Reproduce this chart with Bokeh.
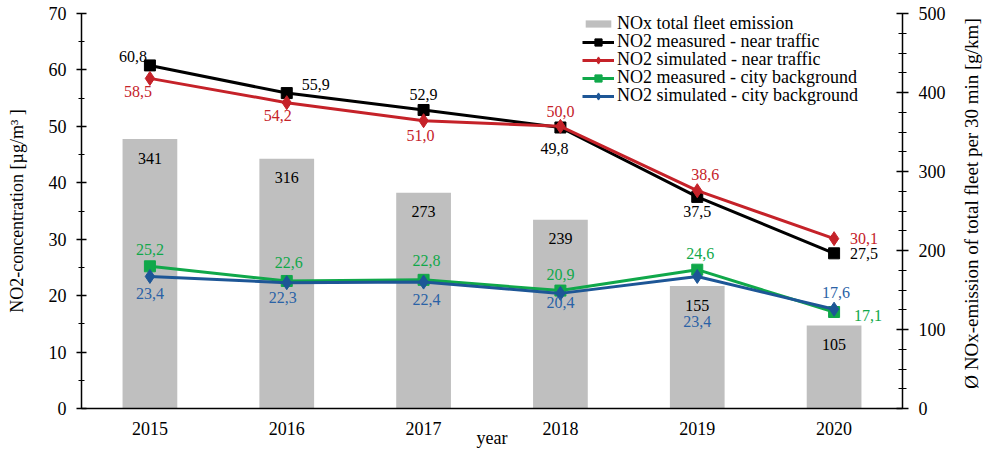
import math
from bokeh.plotting import figure
from bokeh.layouts import row
from bokeh.models import (ColumnDataSource, Range1d, FactorRange, LinearAxis, FixedTicker,
                          Legend, LegendItem)
from bokeh.core.properties import value
from bokeh.embed import file_html
from bokeh.resources import INLINE

years = ["2015", "2016", "2017", "2018", "2019", "2020"]
nox_emission = [341, 316, 273, 239, 155, 105]
no2_meas_traffic = [60.8, 55.9, 52.9, 49.8, 37.5, 27.5]
no2_sim_traffic = [58.5, 54.2, 51.0, 50.0, 38.6, 30.1]
no2_meas_bg = [25.2, 22.6, 22.8, 20.9, 24.6, 17.1]
no2_sim_bg = [23.4, 22.3, 22.4, 20.4, 23.4, 17.6]

left_ticks = [0, 10, 20, 30, 40, 50, 60, 70]
right_ticks = [0, 100, 200, 300, 400, 500]

legend_labels = ["NOx total fleet emission",
                 "NO2 measured - near traffic",
                 "NO2 simulated - near traffic",
                 "NO2 measured - city background",
                 "NO2 simulated - city background"]
right_title = "Ø NOx-emission of total fleet per 30 min [g/km]"

FONT = "Liberation Serif"
C_BAR = "#bfbfbf"
C_BLACK = "#000000"
C_RED = "#c52229"
C_GREEN = "#10a84a"
C_BLUE = "#1d5696"
C_BLUE_TXT = "#2a62a6"

def fmt(v):
    return f"{v:.1f}".replace(".", ",")

p = figure(x_range=FactorRange(factors=years, range_padding=0),
           y_range=Range1d(0, 70),
           frame_width=821, frame_height=395,
           min_border_left=81, min_border_right=56, min_border_top=13, min_border_bottom=43,
           output_backend="svg", toolbar_location=None)
p.extra_y_ranges = {"nox": Range1d(0, 500)}
p.outline_line_color = None
p.xgrid.grid_line_color = None
p.ygrid.grid_line_color = None
p.background_fill_color = "white"
p.border_fill_color = "white"

# bars
src_bar = ColumnDataSource(dict(x=years, top=nox_emission,
                                lab=[str(v) for v in nox_emission]))
bars = p.vbar(x="x", top="top", width=0.4, source=src_bar, y_range_name="nox",
              fill_color=C_BAR, line_color=None)
p.text(x="x", y="top", text="lab", source=src_bar, y_range_name="nox",
       text_font=value(FONT), text_font_size="16px", text_color="black",
       text_align="center", text_baseline="middle", y_offset=19)

def series(vals, color, marker, msize, txtcolor, dx, dy):
    src = ColumnDataSource(dict(x=years, y=vals, lab=[fmt(v) for v in vals], dx=dx, dy=dy))
    ln = p.line(x="x", y="y", source=src, line_color=color, line_width=3)
    sc = p.scatter(x="x", y="y", source=src, marker=marker, size=msize,
                   fill_color=color, line_color=color)
    p.text(x="x", y="y", text="lab", source=src, x_offset="dx", y_offset="dy",
           text_font=value(FONT), text_font_size="16px", text_color=txtcolor,
           text_align="center", text_baseline="middle")
    return [ln, sc]

r_black = series(no2_meas_traffic, C_BLACK, "square", 11, "black",
                 [-17, 29, 0, -6, 0, 30], [-9, -9, -15, 21, 15, 0])
r_red = series(no2_sim_traffic, C_RED, "diamond", 14, C_RED,
               [-12, -9, -3, 0, 8, 30], [13, 13, 15, -15, -16, 0])
r_green = series(no2_meas_bg, C_GREEN, "square", 11, C_GREEN,
                 [0, 2, 3, 0, 3, 34], [-17, -18, -19, -16, -16, 3])
r_blue = series(no2_sim_bg, C_BLUE, "diamond", 14, C_BLUE_TXT,
                [0, -4, 3, 0, 0, 2], [17, 15, 17, 9, 45, -17])

# axes
ax_l = p.yaxis[0]
ax_l.ticker = FixedTicker(ticks=left_ticks, minor_ticks=[5, 15, 25, 35, 45, 55, 65])
ax_l.axis_label = "NO2-concentration [µg/m³ ]"
ax_l.axis_label_standoff = 19
ax_l.axis_label_text_font = FONT
ax_l.axis_label_text_font_size = "18px"
ax_l.axis_label_text_font_style = "normal"
ax_l.axis_label_text_color = "black"
ax_l.major_label_text_font = FONT
ax_l.major_label_text_font_size = "18px"
ax_l.major_label_text_color = "black"
ax_l.major_label_standoff = 10
ax_l.axis_line_width = 1.5
ax_l.major_tick_in = 5
ax_l.major_tick_out = 5
ax_l.minor_tick_in = 3
ax_l.minor_tick_out = 3
ax_l.major_tick_line_width = 1.5

ax_r = LinearAxis(y_range_name="nox",
                  ticker=FixedTicker(ticks=right_ticks,
                                     minor_ticks=[v for v in range(25, 500, 25) if v % 100]))
ax_r.major_label_text_font = FONT
ax_r.major_label_text_font_size = "18px"
ax_r.major_label_text_color = "black"
ax_r.major_label_standoff = 10
ax_r.axis_line_width = 1.5
ax_r.major_tick_in = 6
ax_r.major_tick_out = 6
ax_r.minor_tick_in = 4
ax_r.minor_tick_out = 4
ax_r.major_tick_line_width = 1.5
p.add_layout(ax_r, "right")

ax_b = p.xaxis[0]
ax_b.axis_label = "year"
ax_b.axis_label_standoff = -10
ax_b.axis_label_text_font = FONT
ax_b.axis_label_text_font_size = "18px"
ax_b.axis_label_text_font_style = "normal"
ax_b.axis_label_text_color = "black"
ax_b.major_label_text_font = FONT
ax_b.major_label_text_font_size = "18px"
ax_b.major_label_text_color = "black"
ax_b.major_label_standoff = 7
ax_b.major_tick_line_color = None
ax_b.minor_tick_line_color = None
ax_b.axis_line_width = 1.5

# legend: one row per Legend so the rows can sit as tightly as in the original
legend_renderers = [[bars], r_black, r_red, r_green, r_blue]
row_bottoms = [374, 356, 338, 320, 302]
for i, (lab, rends) in enumerate(zip(legend_labels, legend_renderers)):
    lg = Legend(items=[LegendItem(label=lab, renderers=rends)],
                location=(501, row_bottoms[i]), padding=0, margin=0, spacing=0,
                glyph_width=32, glyph_height=(9 if i == 0 else 18), label_height=18,
                label_standoff=3,
                label_text_font=FONT, label_text_font_size="18px", label_text_color="black",
                border_line_color=None, background_fill_alpha=0)
    p.add_layout(lg)

# right-hand axis title, reading bottom-to-top
t = figure(width=28, height=451, x_range=Range1d(0, 1), y_range=Range1d(0, 1),
           min_border=0, x_axis_type=None, y_axis_type=None,
           output_backend="svg", toolbar_location=None)
t.outline_line_color = None
t.xgrid.grid_line_color = None
t.ygrid.grid_line_color = None
t.text(x=[0.45], y=[0.519], text=[right_title], angle=math.pi / 2,
       text_font=value(FONT), text_font_size="19px", text_color="black",
       text_align="center", text_baseline="middle")

layout = row(p, t, spacing=0)
open("out.html", "w").write(file_html(layout, INLINE))
